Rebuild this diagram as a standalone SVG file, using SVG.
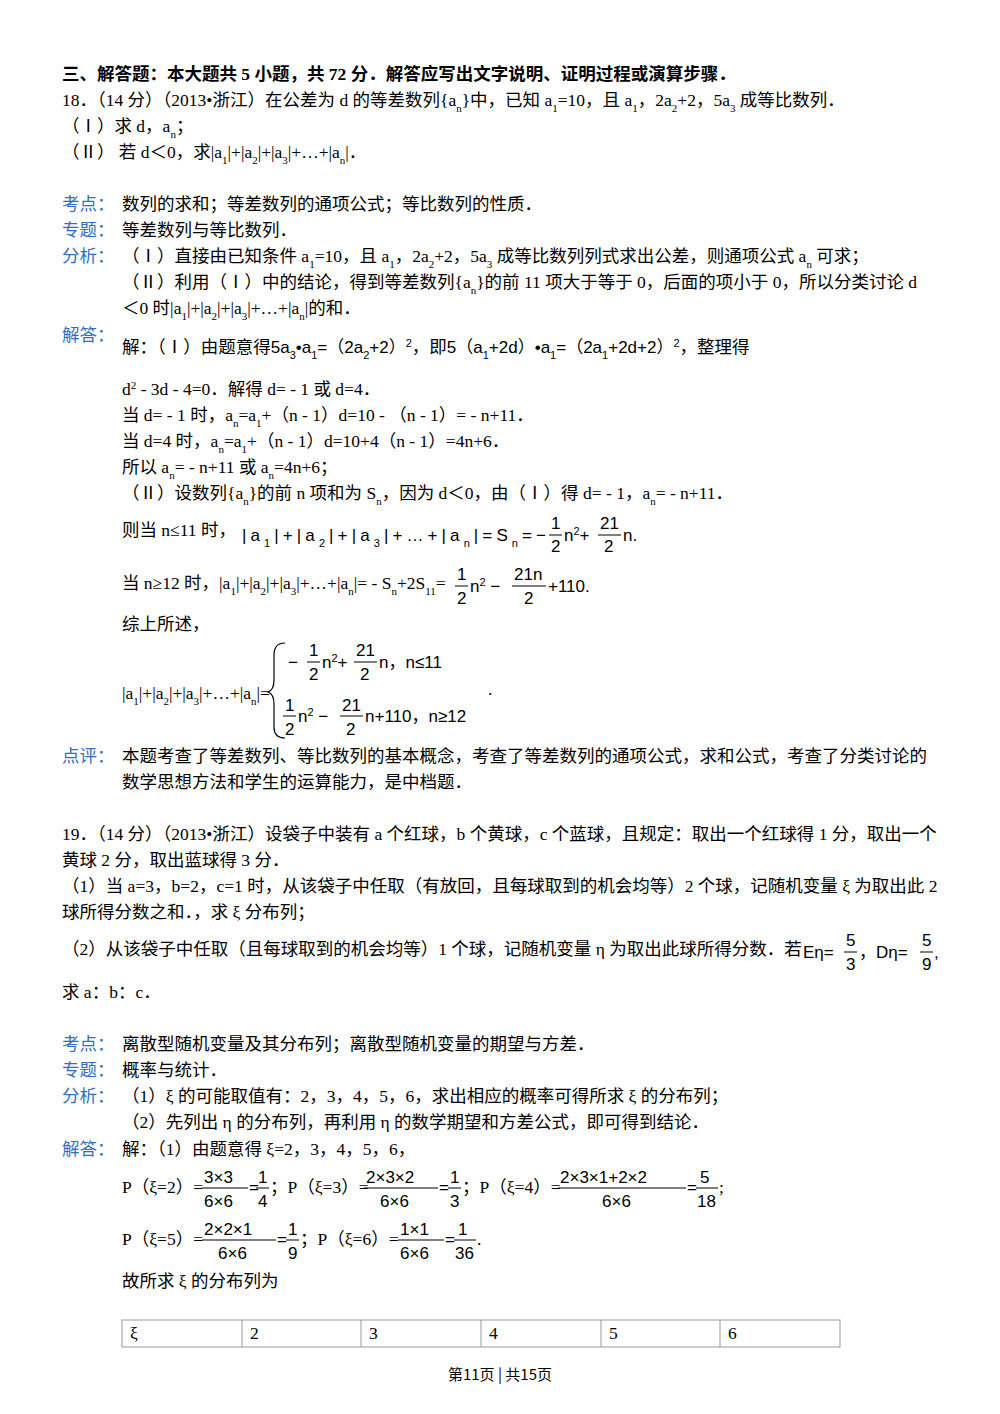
<svg xmlns="http://www.w3.org/2000/svg" width="1000" height="1414" viewBox="0 0 1000 1414">
<style>
text{font-family:"Liberation Serif","Noto Sans CJK SC",serif;font-size:17.5px;fill:#000}
.b{font-weight:bold}
.k{fill:#2e6fbf}
.s{font-size:11px}
.m{font-family:"Liberation Sans","Noto Sans CJK SC",sans-serif;font-size:17px}
line{stroke:#000;stroke-width:1}
.tb{fill:none;stroke:#999;stroke-width:1}
</style>
<rect width="1000" height="1414" fill="#fff"/>
<text x="62" y="80" class="b">三、解答题：本大题共 5 小题，共 72 分．解答应写出文字说明、证明过程或演算步骤．</text>
<text x="62" y="106">18．（14 分）（2013•浙江）在公差为 d 的等差数列{a<tspan class="s" baseline-shift="sub">n</tspan>}中，已知 a<tspan class="s" baseline-shift="sub">1</tspan>=10，且 a<tspan class="s" baseline-shift="sub">1</tspan>，2a<tspan class="s" baseline-shift="sub">2</tspan>+2，5a<tspan class="s" baseline-shift="sub">3</tspan> 成等比数列．</text>
<text x="62" y="132">（Ⅰ）求 d，a<tspan class="s" baseline-shift="sub">n</tspan>；</text>
<text x="62" y="158">（Ⅱ） 若 d＜0，求|a<tspan class="s" baseline-shift="sub">1</tspan>|+|a<tspan class="s" baseline-shift="sub">2</tspan>|+|a<tspan class="s" baseline-shift="sub">3</tspan>|+…+|a<tspan class="s" baseline-shift="sub">n</tspan>|．</text>
<text x="62" y="210" class="k">考点：</text><text x="122" y="210">数列的求和；等差数列的通项公式；等比数列的性质．</text>
<text x="62" y="236" class="k">专题：</text><text x="122" y="236">等差数列与等比数列．</text>
<text x="62" y="262" class="k">分析：</text><text x="122" y="262">（Ⅰ）直接由已知条件 a<tspan class="s" baseline-shift="sub">1</tspan>=10，且 a<tspan class="s" baseline-shift="sub">1</tspan>，2a<tspan class="s" baseline-shift="sub">2</tspan>+2，5a<tspan class="s" baseline-shift="sub">3</tspan> 成等比数列列式求出公差，则通项公式 a<tspan class="s" baseline-shift="sub">n</tspan> 可求；</text>
<text x="122" y="288">（Ⅱ）利用（Ⅰ）中的结论，得到等差数列{a<tspan class="s" baseline-shift="sub">n</tspan>}的前 11 项大于等于 0，后面的项小于 0，所以分类讨论 d</text>
<text x="122" y="314">＜0 时|a<tspan class="s" baseline-shift="sub">1</tspan>|+|a<tspan class="s" baseline-shift="sub">2</tspan>|+|a<tspan class="s" baseline-shift="sub">3</tspan>|+…+|a<tspan class="s" baseline-shift="sub">n</tspan>|的和．</text>
<text x="62" y="341" class="k">解答：</text>
<text x="122" y="353">解：（Ⅰ）由题意得<tspan class="m">5a<tspan class="s" baseline-shift="sub">3</tspan>•a<tspan class="s" baseline-shift="sub">1</tspan>=（2a<tspan class="s" baseline-shift="sub">2</tspan>+2）<tspan class="s" baseline-shift="super">2</tspan></tspan>，即<tspan class="m">5（a<tspan class="s" baseline-shift="sub">1</tspan>+2d）•a<tspan class="s" baseline-shift="sub">1</tspan>=（2a<tspan class="s" baseline-shift="sub">1</tspan>+2d+2）<tspan class="s" baseline-shift="super">2</tspan></tspan>，整理得</text>
<text x="122" y="395">d<tspan class="s" baseline-shift="super">2</tspan> - 3d - 4=0．解得 d= - 1 或 d=4．</text>
<text x="122" y="421">当 d= - 1 时，a<tspan class="s" baseline-shift="sub">n</tspan>=a<tspan class="s" baseline-shift="sub">1</tspan>+（n - 1）d=10 - （n - 1）= - n+11．</text>
<text x="122" y="447">当 d=4 时，a<tspan class="s" baseline-shift="sub">n</tspan>=a<tspan class="s" baseline-shift="sub">1</tspan>+（n - 1）d=10+4（n - 1）=4n+6．</text>
<text x="122" y="473">所以 a<tspan class="s" baseline-shift="sub">n</tspan>= - n+11 或 a<tspan class="s" baseline-shift="sub">n</tspan>=4n+6；</text>
<text x="122" y="499">（Ⅱ）设数列{a<tspan class="s" baseline-shift="sub">n</tspan>}的前 n 项和为 S<tspan class="s" baseline-shift="sub">n</tspan>，因为 d＜0，由（Ⅰ）得 d= - 1，a<tspan class="s" baseline-shift="sub">n</tspan>= - n+11．</text>
<text x="122" y="536">则当 n≤11 时，</text>
<text x="242" y="541" class="m" textLength="304" lengthAdjust="spacing">|a<tspan class="s" baseline-shift="sub">1</tspan>|+|a<tspan class="s" baseline-shift="sub">2</tspan>|+|a<tspan class="s" baseline-shift="sub">3</tspan>|+…+|a<tspan class="s" baseline-shift="sub">n</tspan>|=S<tspan class="s" baseline-shift="sub">n</tspan>=−</text>
<text x="551" y="529" class="m">1</text><line x1="549" y1="535" x2="562" y2="535"/><text x="551" y="552" class="m">2</text>
<text x="564" y="541" class="m">n<tspan class="s" baseline-shift="super">2</tspan>+</text>
<text x="600" y="529" class="m">21</text><line x1="598" y1="535" x2="621" y2="535"/><text x="604" y="552" class="m">2</text>
<text x="623" y="541" class="m">n.</text>
<text x="122" y="589">当 n≥12 时，|a<tspan class="s" baseline-shift="sub">1</tspan>|+|a<tspan class="s" baseline-shift="sub">2</tspan>|+|a<tspan class="s" baseline-shift="sub">3</tspan>|+…+|a<tspan class="s" baseline-shift="sub">n</tspan>|= - S<tspan class="s" baseline-shift="sub">n</tspan>+2S<tspan class="s" baseline-shift="sub">11</tspan>=</text>
<text x="457" y="580" class="m">1</text><line x1="455" y1="586" x2="468" y2="586"/><text x="457" y="604" class="m">2</text>
<text x="470" y="592" class="m">n<tspan class="s" baseline-shift="super">2</tspan> −</text>
<text x="514" y="580" class="m">21n</text><line x1="512" y1="586" x2="546" y2="586"/><text x="524" y="604" class="m">2</text>
<text x="548" y="592" class="m">+110.</text>
<text x="122" y="630">综上所述，</text>
<text x="122" y="699">|a<tspan class="s" baseline-shift="sub">1</tspan>|+|a<tspan class="s" baseline-shift="sub">2</tspan>|+|a<tspan class="s" baseline-shift="sub">3</tspan>|+…+|a<tspan class="s" baseline-shift="sub">n</tspan>|=</text>
<path d="M285 643 Q274 643 274 655 L274 680 Q274 690 268 692 Q274 694 274 704 L274 727 Q274 738 285 738" fill="none" stroke="#000" stroke-width="1.2"/>
<text x="288" y="668" class="m">−</text>
<text x="309" y="656" class="m">1</text><line x1="307" y1="662" x2="320" y2="662"/><text x="309" y="680" class="m">2</text>
<text x="322" y="668" class="m">n<tspan class="s" baseline-shift="super">2</tspan>+</text>
<text x="356" y="656" class="m">21</text><line x1="354" y1="662" x2="377" y2="662"/><text x="360" y="680" class="m">2</text>
<text x="379" y="668" class="m">n，n≤11</text>
<text x="285" y="711" class="m">1</text><line x1="283" y1="716" x2="296" y2="716"/><text x="285" y="735" class="m">2</text>
<text x="298" y="722" class="m">n<tspan class="s" baseline-shift="super">2</tspan> −</text>
<text x="342" y="711" class="m">21</text><line x1="340" y1="716" x2="363" y2="716"/><text x="346" y="735" class="m">2</text>
<text x="365" y="722" class="m">n+110，n≥12</text>
<text x="488" y="695">.</text>
<text x="62" y="762" class="k">点评：</text><text x="122" y="762">本题考查了等差数列、等比数列的基本概念，考查了等差数列的通项公式，求和公式，考查了分类讨论的</text>
<text x="122" y="788">数学思想方法和学生的运算能力，是中档题．</text>
<text x="62" y="840">19．（14 分）（2013•浙江）设袋子中装有 a 个红球，b 个黄球，c 个蓝球，且规定：取出一个红球得 1 分，取出一个</text>
<text x="62" y="866">黄球 2 分，取出蓝球得 3 分．</text>
<text x="62" y="892">（1）当 a=3，b=2，c=1 时，从该袋子中任取（有放回，且每球取到的机会均等）2 个球，记随机变量 ξ 为取出此 2</text>
<text x="62" y="918">球所得分数之和．，求 ξ 分布列；</text>
<text x="62" y="955">（2）从该袋子中任取（且每球取到的机会均等）1 个球，记随机变量 η 为取出此球所得分数．若</text>
<text x="803" y="958" class="m">Eη=</text><text x="846" y="946" class="m">5</text><line x1="844" y1="952" x2="857" y2="952"/><text x="846" y="970" class="m">3</text>
<text x="859" y="958" class="m">，Dη=</text><text x="922" y="946" class="m">5</text><line x1="920" y1="952" x2="933" y2="952"/><text x="922" y="970" class="m">9</text><text x="934" y="958" class="m">,</text>
<text x="62" y="998">求 a：b：c．</text>
<text x="62" y="1050" class="k">考点：</text><text x="122" y="1050">离散型随机变量及其分布列；离散型随机变量的期望与方差．</text>
<text x="62" y="1076" class="k">专题：</text><text x="122" y="1076">概率与统计．</text>
<text x="62" y="1102" class="k">分析：</text><text x="122" y="1102">（1）ξ 的可能取值有：2，3，4，5，6，求出相应的概率可得所求 ξ 的分布列；</text>
<text x="122" y="1128">（2）先列出 η 的分布列，再利用 η 的数学期望和方差公式，即可得到结论．</text>
<text x="62" y="1155" class="k">解答：</text><text x="122" y="1155">解：（1）由题意得 ξ=2，3，4，5，6，</text>
<text x="122" y="1193">P（ξ=2）=</text>
<text x="204" y="1183" class="m">3×3</text><line x1="202" y1="1188" x2="248" y2="1188"/><text x="204" y="1207" class="m">6×6</text>
<text x="249" y="1193" class="m">=</text><text x="258" y="1183" class="m">1</text><line x1="256" y1="1188" x2="269" y2="1188"/><text x="258" y="1207" class="m">4</text>
<text x="270" y="1193">；P（ξ=3）=</text>
<text x="366" y="1183" class="m">2×3×2</text><line x1="364" y1="1188" x2="438" y2="1188"/><text x="380" y="1207" class="m">6×6</text>
<text x="439" y="1193" class="m">=</text><text x="450" y="1183" class="m">1</text><line x1="448" y1="1188" x2="461" y2="1188"/><text x="450" y="1207" class="m">3</text>
<text x="462" y="1193">；P（ξ=4）=</text>
<text x="560" y="1183" class="m">2×3×1+2×2</text><line x1="558" y1="1188" x2="686" y2="1188"/><text x="602" y="1207" class="m">6×6</text>
<text x="687" y="1193" class="m">=</text><text x="700" y="1183" class="m">5</text><line x1="696" y1="1188" x2="718" y2="1188"/><text x="697" y="1207" class="m">18</text>
<text x="719" y="1193">;</text>
<text x="122" y="1245">P（ξ=5）=</text>
<text x="204" y="1235" class="m">2×2×1</text><line x1="202" y1="1240" x2="276" y2="1240"/><text x="218" y="1259" class="m">6×6</text>
<text x="277" y="1245" class="m">=</text><text x="288" y="1235" class="m">1</text><line x1="286" y1="1240" x2="299" y2="1240"/><text x="288" y="1259" class="m">9</text>
<text x="300" y="1245">；P（ξ=6）=</text>
<text x="400" y="1235" class="m">1×1</text><line x1="398" y1="1240" x2="444" y2="1240"/><text x="400" y="1259" class="m">6×6</text>
<text x="445" y="1245" class="m">=</text><text x="458" y="1235" class="m">1</text><line x1="454" y1="1240" x2="476" y2="1240"/><text x="455" y="1259" class="m">36</text>
<text x="477" y="1245">.</text>
<text x="122" y="1287">故所求 ξ 的分布列为</text>
<g>
<rect class="tb" x="122" y="1320" width="718" height="27"/>
<line class="tb" x1="242" y1="1320" x2="242" y2="1347"/><line class="tb" x1="361" y1="1320" x2="361" y2="1347"/><line class="tb" x1="481" y1="1320" x2="481" y2="1347"/><line class="tb" x1="601" y1="1320" x2="601" y2="1347"/><line class="tb" x1="720" y1="1320" x2="720" y2="1347"/>
<text x="130" y="1339">ξ</text><text x="250" y="1339">2</text><text x="369" y="1339">3</text><text x="489" y="1339">4</text><text x="609" y="1339">5</text><text x="728" y="1339">6</text>
</g>
<text x="500" y="1380" text-anchor="middle" style="font-family:'Noto Sans CJK SC',sans-serif;font-size:15px">第11页 | 共15页</text>
</svg>
